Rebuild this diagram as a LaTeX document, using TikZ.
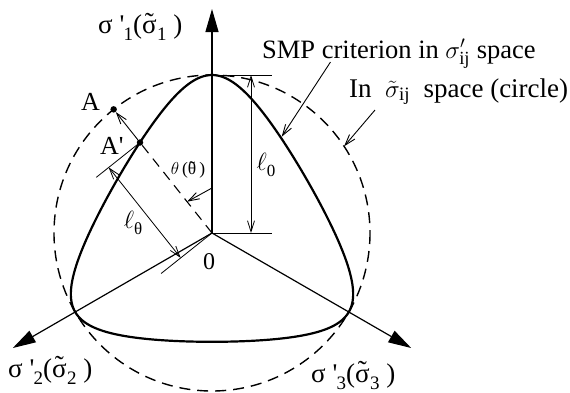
\documentclass[tikz,border=0pt]{standalone}
\usepackage{fontspec}
\setmainfont{Liberation Serif}
\usetikzlibrary{arrows.meta}
\newcommand\tildeover[2][0.08em]{\leavevmode\setbox0=\hbox{#2}\rlap{\hbox to\wd0{\hss\raisebox{#1}{˜}\hss}}\box0}
\newcommand\sbs[1]{\raisebox{-0.27em}{\fontsize{19}{19}\selectfont #1}}
\newcommand\sbl[1]{\raisebox{-0.22em}{\fontsize{17}{17}\selectfont #1}}
\newcommand\axlbl[1]{σ\ \textquotesingle\kern-0.03em\sbs{#1}(\tildeover{σ}\kern0.02em\sbs{#1}\ )}
\begin{document}
\begin{tikzpicture}[x=1pt,y=-1pt,
  axis/.style={line width=1.2pt,-{Triangle[length=23pt,width=13pt]}},
  smpcurve/.style={line width=2.2pt,line join=round},
  circ/.style={line width=1.4pt,dash pattern=on 11pt off 7pt},
  raydash/.style={line width=1.1pt,dash pattern=on 10pt off 7pt},
  thinline/.style={line width=0.8pt},
  dimarr/.style={line width=0.8pt,{Straight Barb[length=11pt,width=7pt]}-{Straight Barb[length=11pt,width=7pt]}},
  ptr/.style={line width=0.9pt,-{Straight Barb[length=11pt,width=7pt]}},
  dot/.style={circle,fill,inner sep=0pt,minimum size=6.5pt},
  biglab/.style={inner sep=0pt,font=\fontsize{24}{26}\selectfont},
  ptlab/.style={inner sep=0pt,anchor=base west,font=\fontsize{26}{28}\selectfont},
  axlab/.style={inner sep=0pt,anchor=base west,font=\fontsize{27}{29}\selectfont},
  txtlab/.style={inner sep=0pt,anchor=base west,font=\fontsize{26.5}{29}\selectfont},
  smalllab/.style={inner sep=0pt,font=\fontsize{17.5}{19}\selectfont}]
\useasboundingbox (0,0) rectangle (570,392);
\coordinate (O) at (212,233);
\coordinate (s1) at (212,9);
\coordinate (s2) at (12.8,348);
\coordinate (s3) at (411.2,348);
% circle
\draw[circ] (O) circle[radius=158];
% SMP curve
\draw[smpcurve] plot[domain=0:359,samples=360]
  ({212-(106.3/cos(60-acos(0.8*cos(3*\x))/3))*sin(\x)},
   {233-(106.3/cos(60-acos(0.8*cos(3*\x))/3))*cos(\x)}) -- cycle;
% axes
\draw[axis] (O) -- (s1);
\draw[axis] (O) -- (s2);
\draw[axis] (O) -- (s3);
% points A, A'
\node[dot] (A) at (113.65,109.35) {};
\node[dot] (Ap) at (140,142.5) {};
\draw[raydash] (O) -- (Ap.center);
\draw[ptr] (Ap) -- (A);
% l_theta dimension
\coordinate (ApE) at (96.2,177.4);
\coordinate (OE) at (161.1,273.5);
\draw[thinline] (Ap.center) -- (ApE);
\draw[thinline] (O) -- (OE);
\coordinate (Lt1) at (108.7,167.4);
\coordinate (Lt2) at (180.7,257.9);
\draw[dimarr] (Lt1) -- (Lt2);
% l_0 dimension
\coordinate (T) at (212,75);
\coordinate (TE) at (272,75);
\coordinate (OE2) at (272,233);
\draw[thinline] (T) -- (TE);
\draw[thinline] (O) -- (OE2);
\coordinate (L01) at (251,75);
\coordinate (L02) at (251,233);
\draw[dimarr] (L01) -- (L02);
% theta arrow
\coordinate (th1) at (212,188);
\coordinate (th2) at (187.1,201.7);
\draw[ptr] (th1) -- (th2);
% pointers
\coordinate (smpT) at (330.5,62);
\coordinate (smpC) at (281.7,136.7);
\draw[ptr] (smpT) -- (smpC);
\coordinate (cT) at (375,110);
\coordinate (cC) at (344.1,146.3);
\draw[ptr] (cT) -- (cC);
% labels
\node[axlab] (l1) at (98,33.5) {\axlbl{1}};
\node[axlab] (l2) at (8,377) {\axlbl{2}};
\node[axlab] (l3) at (311,382) {\axlbl{3}};
\node[ptlab] (lA) at (81,110) {A};
\node[ptlab] (lAp) at (100,154) {A\textquotesingle};
\node[biglab] (l0) at (209,262) {0};
\node[biglab] (lt) at (133,223) {$\ell$\sbl{θ}};
\node[biglab] (lz) at (266,165) {$\ell$\sbl{0}};
\node[smalllab] (lth) at (188,170) {$\theta$\,(\tildeover[0.02em]{θ}\,)};
\node[txtlab] (tsmp) at (262,58) {SMP criterion in $\sigma'_{\mathrm{ij}}$ space};
\node[txtlab,font=\fontsize{27}{30}\selectfont] (tcirc) at (349,97) {In \ $\tilde{\sigma}_{\mathrm{ij}}$ \ space (circle)};
\end{tikzpicture}
\end{document}
